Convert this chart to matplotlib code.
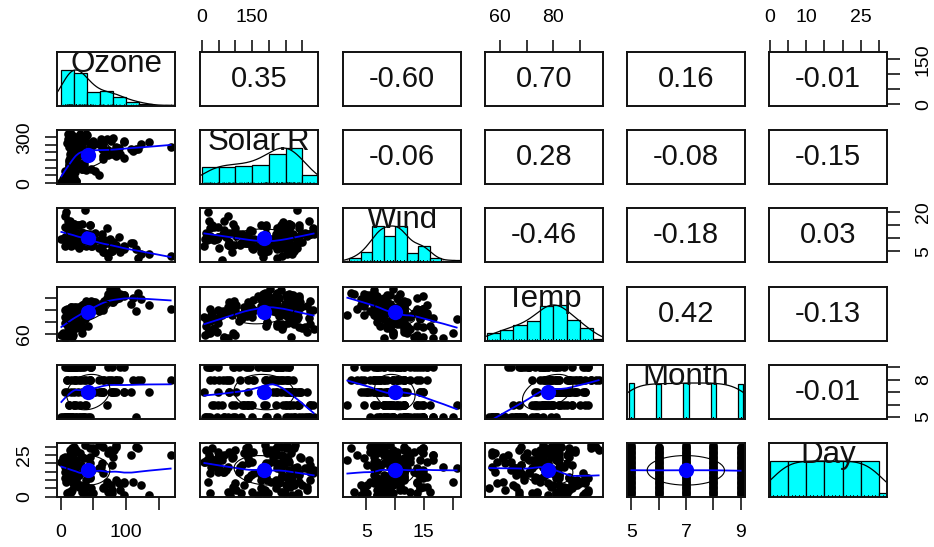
import numpy as np
import matplotlib
matplotlib.use("Agg")
import matplotlib.pyplot as plt

plt.rcParams['font.family'] = ['Liberation Sans', 'DejaVu Sans']

NA = float('nan')

ozone = [41, 36, 12, 18, NA, 28, 23, 19, 8, NA, 7, 16, 11, 14, 18, 14, 34, 6, 30, 11,
         1, 11, 4, 32, NA, NA, NA, 23, 45, 115, 37,
         NA, NA, NA, NA, NA, NA, 29, NA, 71, 39, NA, NA, 23, NA, NA, 21, 37, 20, 12, 13,
         NA, NA, NA, NA, NA, NA, NA, NA, NA, NA,
         135, 49, 32, NA, 64, 40, 77, 97, 97, 85, NA, 10, 27, NA, 7, 48, 35, 61, 79, 63,
         16, NA, NA, 80, 108, 20, 52, 82, 50, 64, 59,
         39, 9, 16, 78, 35, 66, 122, 89, 110, NA, NA, 44, 28, 65, NA, 22, 59, 23, 31, 44,
         21, 9, NA, 45, 168, 73, NA, 76, 118, 84, 85,
         96, 78, 73, 91, 47, 32, 20, 23, 21, 24, 44, 21, 28, 9, 13, 46, 18, 13, 24, 16,
         13, 23, 36, 7, 14, 30, NA, 14, 18, 20]

solar_r = [190, 118, 149, 313, NA, NA, 299, 99, 19, 194, NA, 256, 290, 274, 65, 334, 307, 78, 322, 44,
           8, 320, 25, 92, 66, 266, NA, 13, 252, 223, 279,
           286, 287, 242, 186, 220, 264, 127, 273, 291, 323, 259, 250, 148, 332, 322, 191, 284, 37, 120, 137,
           150, 59, 91, 250, 135, 127, 47, 98, 31, 138,
           269, 248, 236, 101, 175, 314, 276, 267, 272, 175, 139, 264, 175, 291, 48, 260, 274, 285, 187, 220,
           7, 258, 295, 294, 223, 81, 82, 213, 275, 253, 254,
           83, 24, 77, NA, NA, NA, 255, 229, 207, 222, 137, 192, 273, 157, 64, 71, 51, 115, 244, 190,
           259, 36, 255, 212, 238, 215, 153, 203, 225, 237, 188,
           167, 197, 183, 189, 95, 92, 252, 220, 230, 259, 236, 259, 238, 24, 112, 237, 224, 27, 238, 201,
           238, 14, 139, 49, 20, 193, 145, 191, 131, 223]

wind = [7.4, 8.0, 12.6, 11.5, 14.3, 14.9, 8.6, 13.8, 20.1, 8.6, 6.9, 9.7, 9.2, 10.9, 13.2, 11.5, 12.0, 18.4, 11.5, 9.7,
        9.7, 16.6, 9.7, 12.0, 16.6, 14.9, 8.0, 12.0, 14.9, 5.7, 7.4,
        8.6, 9.7, 16.1, 9.2, 8.6, 14.3, 9.7, 6.9, 13.8, 11.5, 10.9, 9.2, 8.0, 13.8, 11.5, 14.9, 20.7, 9.2, 11.5, 10.3,
        6.3, 1.7, 4.6, 6.3, 8.0, 8.0, 10.3, 11.5, 14.9, 8.0,
        4.1, 9.2, 9.2, 10.9, 4.6, 10.9, 5.1, 6.3, 5.7, 7.4, 8.6, 14.3, 14.9, 14.9, 14.3, 6.9, 10.3, 6.3, 5.1, 11.5,
        6.9, 9.7, 11.5, 8.6, 8.0, 8.6, 12.0, 7.4, 7.4, 7.4, 9.2,
        6.9, 13.8, 7.4, 6.9, 7.4, 4.6, 4.0, 10.3, 8.0, 8.6, 11.5, 11.5, 11.5, 9.7, 11.5, 10.3, 6.3, 7.4, 10.9, 10.3,
        15.5, 14.3, 12.6, 9.7, 3.4, 8.0, 5.7, 9.7, 2.3, 6.3, 6.3,
        6.9, 5.1, 2.8, 4.6, 7.4, 15.5, 10.9, 10.3, 10.9, 9.7, 14.9, 15.5, 6.3, 10.9, 11.5, 6.9, 13.8, 10.3, 10.3, 8.0,
        12.6, 9.2, 10.3, 10.3, 16.6, 6.9, 13.2, 14.3, 8.0, 11.5]

temp = [67, 72, 74, 62, 56, 66, 65, 59, 61, 69, 74, 69, 66, 68, 58, 64, 66, 57, 68, 62,
        59, 73, 61, 61, 57, 58, 57, 67, 81, 79, 76,
        78, 74, 67, 84, 85, 79, 82, 87, 90, 87, 93, 92, 82, 80, 79, 77, 72, 65, 73, 76,
        77, 76, 76, 76, 75, 78, 73, 80, 77, 83,
        84, 85, 81, 84, 83, 83, 88, 92, 92, 89, 82, 73, 81, 91, 80, 81, 82, 84, 87, 85,
        74, 81, 82, 86, 85, 82, 86, 88, 86, 83, 81,
        81, 81, 82, 86, 85, 87, 89, 90, 90, 92, 86, 86, 82, 80, 79, 77, 79, 76, 78, 78,
        77, 72, 75, 79, 81, 86, 88, 97, 94, 96, 94,
        91, 92, 93, 93, 87, 84, 80, 78, 75, 73, 81, 76, 77, 71, 71, 78, 67, 76, 68, 82,
        64, 71, 81, 69, 63, 70, 77, 75, 76, 68]

month = [5, 5, 5, 5, 5, 5, 5, 5, 5, 5, 5, 5, 5, 5, 5, 5, 5, 5, 5, 5, 5, 5, 5, 5, 5, 5, 5, 5, 5, 5, 5,
         6, 6, 6, 6, 6, 6, 6, 6, 6, 6, 6, 6, 6, 6, 6, 6, 6, 6, 6, 6, 6, 6, 6, 6, 6, 6, 6, 6, 6, 6,
         7, 7, 7, 7, 7, 7, 7, 7, 7, 7, 7, 7, 7, 7, 7, 7, 7, 7, 7, 7, 7, 7, 7, 7, 7, 7, 7, 7, 7, 7, 7,
         8, 8, 8, 8, 8, 8, 8, 8, 8, 8, 8, 8, 8, 8, 8, 8, 8, 8, 8, 8, 8, 8, 8, 8, 8, 8, 8, 8, 8, 8, 8,
         9, 9, 9, 9, 9, 9, 9, 9, 9, 9, 9, 9, 9, 9, 9, 9, 9, 9, 9, 9, 9, 9, 9, 9, 9, 9, 9, 9, 9, 9]

day = [1, 2, 3, 4, 5, 6, 7, 8, 9, 10, 11, 12, 13, 14, 15, 16, 17, 18, 19, 20, 21, 22, 23, 24, 25, 26, 27, 28, 29, 30, 31,
       1, 2, 3, 4, 5, 6, 7, 8, 9, 10, 11, 12, 13, 14, 15, 16, 17, 18, 19, 20, 21, 22, 23, 24, 25, 26, 27, 28, 29, 30,
       1, 2, 3, 4, 5, 6, 7, 8, 9, 10, 11, 12, 13, 14, 15, 16, 17, 18, 19, 20, 21, 22, 23, 24, 25, 26, 27, 28, 29, 30, 31,
       1, 2, 3, 4, 5, 6, 7, 8, 9, 10, 11, 12, 13, 14, 15, 16, 17, 18, 19, 20, 21, 22, 23, 24, 25, 26, 27, 28, 29, 30, 31,
       1, 2, 3, 4, 5, 6, 7, 8, 9, 10, 11, 12, 13, 14, 15, 16, 17, 18, 19, 20, 21, 22, 23, 24, 25, 26, 27, 28, 29, 30]

names = ["Ozone", "Solar.R", "Wind", "Temp", "Month", "Day"]

# correlations shown in the upper panels (row-major upper triangle)
cor_values = [0.35, -0.60, 0.70, 0.16, -0.01,
              -0.06, 0.28, -0.08, -0.15,
              -0.46, -0.18, 0.03,
              0.42, -0.13,
              -0.01]

# histogram breaks (Sturges) per variable; None = discrete bars
hist_breaks = {
    "Ozone": [0, 20, 40, 60, 80, 100, 120, 140, 160, 180],
    "Solar.R": [0, 50, 100, 150, 200, 250, 300, 350],
    "Wind": [0, 2, 4, 6, 8, 10, 12, 14, 16, 18, 20, 22],
    "Temp": [55, 60, 65, 70, 75, 80, 85, 90, 95, 100],
    "Month": None,
    "Day": [0, 5, 10, 15, 20, 25, 30, 35],
}

# axis ticks and labels per variable
tick_pos = {
    "Ozone": [0, 50, 100, 150],
    "Solar.R": [0, 50, 100, 150, 200, 250, 300],
    "Wind": [5, 10, 15, 20],
    "Temp": [60, 70, 80, 90],
    "Month": [5, 6, 7, 8, 9],
    "Day": [0, 5, 10, 15, 20, 25, 30],
}
tick_lab_x = {
    "Ozone": ["0", "", "100", ""],
    "Solar.R": ["0", "", "", "150", "", "", ""],
    "Wind": ["5", "", "15", ""],
    "Temp": ["60", "", "80", ""],
    "Month": ["5", "", "7", "", "9"],
    "Day": ["0", "", "10", "", "", "25", ""],
}
tick_lab_y = {
    "Ozone": ["0", "", "", "150"],
    "Solar.R": ["0", "", "", "", "", "", "300"],
    "Wind": ["5", "", "", "20"],
    "Temp": ["60", "", "", ""],
    "Month": ["5", "", "", "8", ""],
    "Day": ["0", "", "", "", "", "25", ""],
}

data = [np.array(v, dtype=float) for v in (ozone, solar_r, wind, temp, month, day)]
nv = len(names)


def lowess(x, y, f=2.0 / 3.0, iters=3):
    o = np.argsort(x, kind="stable")
    x = x[o]
    y = y[o]
    n = len(x)
    ns = max(min(int(f * n + 1e-7), n), 2)
    rng = x[-1] - x[0]
    rw = np.ones(n)
    ys = np.zeros(n)
    for it in range(iters + 1):
        for i in range(n):
            d = np.abs(x - x[i])
            h = np.sort(d)[ns - 1]
            if h <= 0:
                h = 1e-12
            r = d / h
            w = np.where(d <= 0.999 * h, (1 - r ** 3) ** 3, 0.0)
            w[d <= 0.001 * h] = 1.0
            w = w * rw
            sw = w.sum()
            if sw <= 0:
                ys[i] = y[i]
                continue
            w = w / sw
            a = (w * x).sum()
            c = (w * (x - a) ** 2).sum()
            if np.sqrt(c) > 0.001 * rng:
                b = (x[i] - a) / c
                ww = w * (b * (x - a) + 1)
            else:
                ww = w
            ys[i] = (ww * y).sum()
        if it == iters:
            break
        res = y - ys
        cmad = 6 * np.median(np.abs(res))
        if cmad < 1e-7 * np.mean(np.abs(y)):
            break
        rr = np.abs(res) / cmad
        rw = np.where(rr < 0.999, (1 - rr ** 2) ** 2, 0.0)
        rw[rr <= 0.001] = 1.0
    return x, ys


def kde(x):
    n = len(x)
    q1, q3 = np.quantile(x, [0.25, 0.75])
    bw = 1.06 * min(np.std(x, ddof=1), (q3 - q1) / 1.34) * n ** (-0.2) * 1.2
    g = np.linspace(x.min() - 3 * bw, x.max() + 3 * bw, 512)
    dens = np.exp(-0.5 * ((g[:, None] - x[None, :]) / bw) ** 2).sum(axis=1) / (n * bw * np.sqrt(2 * np.pi))
    return g, dens


lims = []
for v in data:
    v = v[np.isfinite(v)]
    lo, hi = v.min(), v.max()
    pad = 0.04 * (hi - lo)
    lims.append((lo - pad, hi + pad))

W, H = 934, 547
fig = plt.figure(figsize=(W / 100, H / 100), dpi=100)
col_left = [57, 200, 343, 485, 627, 769]
row_top = [52, 130, 208, 287, 365, 443]
pw, ph = 118, 54

cor_iter = iter(cor_values)
axes = {}
for i in range(nv):
    for j in range(nv):
        ax = fig.add_axes([col_left[j] / W, (H - row_top[i] - ph) / H, pw / W, ph / H])
        axes[(i, j)] = ax
        ax.set_xlim(lims[j])
        for s in ax.spines.values():
            s.set_linewidth(1.4)
            s.set_color("#111111")
        xj = data[j]
        if i == j:
            ax.set_ylim(0, 1.5)
            v = xj[np.isfinite(xj)]
            br = hist_breaks[names[j]]
            if br is None:
                vals, cnt = np.unique(v, return_counts=True)
                ib = np.min(np.diff(vals)) * (len(vals) - 1) / 41.0
                ax.bar(vals - ib, cnt / cnt.max(), width=2 * ib, align="edge",
                       color="#00FFFF", edgecolor="black", linewidth=0.9)
            else:
                br = np.array(br, dtype=float)
                idx = np.searchsorted(br, v, side="left") - 1
                idx[idx < 0] = 0
                cnt = np.bincount(idx, minlength=len(br) - 1)[: len(br) - 1]
                ax.bar(br[:-1], cnt / cnt.max(), width=np.diff(br), align="edge",
                       color="#00FFFF", edgecolor="black", linewidth=0.9)
            g, dens = kde(v)
            ax.plot(g, dens / dens.max(), color="black", lw=0.9)
            ax.vlines(v, 0, 0.045, color="black", lw=0.4)
            ax.text(0.5, 0.63, names[j], transform=ax.transAxes, ha="center", va="baseline",
                    fontsize=22.5, color="#111111", clip_on=True)
        elif i > j:
            yi = data[i]
            ax.set_ylim(lims[i])
            ok = np.isfinite(xj) & np.isfinite(yi)
            ax.plot(xj[ok], yi[ok], "o", color="black", ms=6.2, mew=0)
            lx, ly = lowess(xj[ok], yi[ok])
            ax.plot(lx, ly, color="#0000FF", lw=1.3)
            xm = np.nanmean(xj)
            ym = np.nanmean(yi)
            xs = np.nanstd(xj, ddof=1)
            ys_ = np.nanstd(yi, ddof=1)
            r = np.corrcoef(xj[ok], yi[ok])[0, 1]
            ang = np.linspace(0, 2 * np.pi, 52)
            unit = np.column_stack([np.cos(ang), np.sin(ang)])
            th = np.sign(r) / np.sqrt(2) if abs(r) > 0 else 1 / np.sqrt(2)
            shape = np.diag([np.sqrt(1 + r), np.sqrt(1 - r)]) @ np.array([[th, th], [-th, th]])
            ell = unit @ shape
            ax.plot(xm, ym, "o", color="#0000FF", ms=11, mew=0)
            ax.plot(ell[:, 0] * xs + xm, ell[:, 1] * ys_ + ym, color="black", lw=0.8)
        else:
            ax.set_ylim(lims[i])
            cv = next(cor_iter)
            ax.text(0.5, 0.5, "%.2f" % cv, transform=ax.transAxes, ha="center", va="center",
                    fontsize=21, color="#111111")

        ax.set_xticks([])
        ax.set_yticks([])
        # axes on the outer sides, alternating
        if i == 0 and j % 2 == 1:
            ax.xaxis.tick_top()
            ax.set_xticks(tick_pos[names[j]])
            ax.set_xticklabels(tick_lab_x[names[j]])
            ax.tick_params(axis="x", direction="out", length=9, width=1.1, labelsize=14, pad=9.5,
                           top=True, bottom=False, labeltop=True, labelbottom=False)
        if i == nv - 1 and j % 2 == 0:
            ax.set_xticks(tick_pos[names[j]])
            ax.set_xticklabels(tick_lab_x[names[j]])
            ax.tick_params(axis="x", direction="out", length=9, width=1.1, labelsize=14, pad=10.5)
        if j == 0 and i % 2 == 1:
            ax.set_yticks(tick_pos[names[i]])
            ax.set_yticklabels(tick_lab_y[names[i]], rotation=90, va="center")
            ax.tick_params(axis="y", direction="out", length=9, width=1.1, labelsize=14, pad=8.3)
        if j == nv - 1 and i % 2 == 0:
            ax.yaxis.tick_right()
            ax.set_yticks(tick_pos[names[i]])
            ax.set_yticklabels(tick_lab_y[names[i]], rotation=90, va="center")
            ax.tick_params(axis="y", direction="out", length=9, width=1.1, labelsize=14, pad=11,
                           right=True, left=False, labelright=True, labelleft=False)
        if i == j:
            ax.set_ylim(0, 1.5)
        ax.set_xlim(lims[j])

fig.savefig("out.png", dpi=100)
